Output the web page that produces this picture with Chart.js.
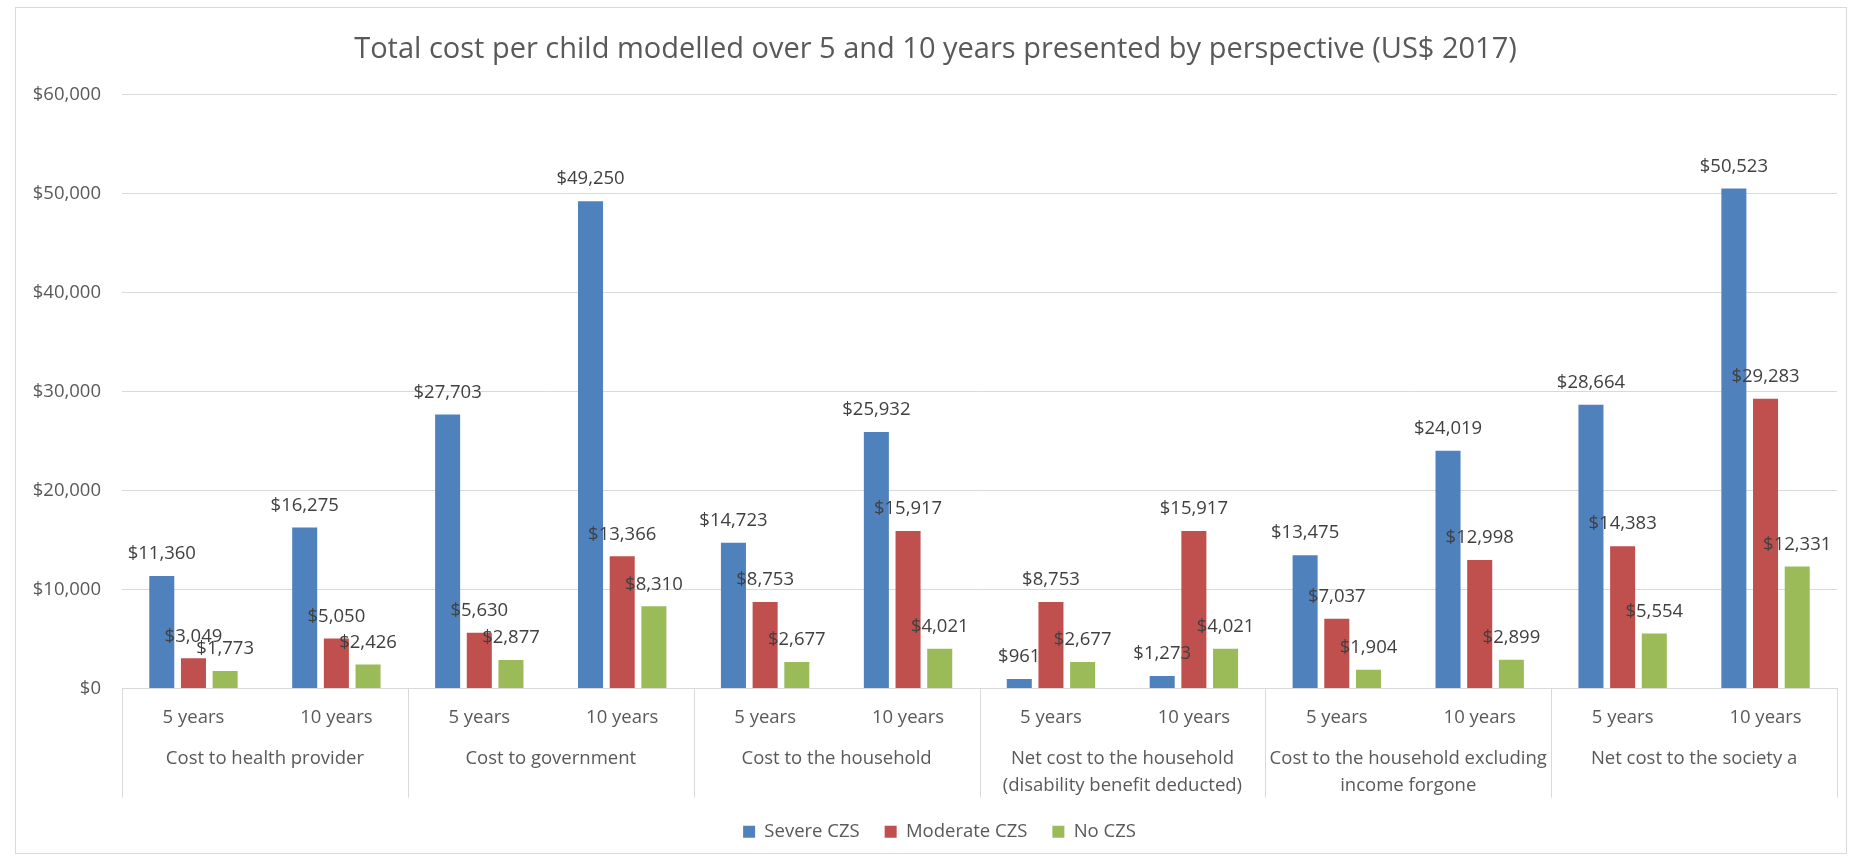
<!DOCTYPE html>
<html>
<head>
<meta charset="utf-8">
<title>Total cost per child</title>
<script src="https://cdn.jsdelivr.net/npm/chart.js@4.4.1/dist/chart.umd.min.js"></script>
<style>
  html, body { margin: 0; padding: 0; background: #ffffff; }
  #wrap { position: relative; width: 1854px; height: 860px; }
</style>
</head>
<body>
<div id="wrap"><canvas id="myChart"></canvas></div>
<script>
// categories: two horizons inside each perspective
const years = ['5 years', '10 years', '5 years', '10 years', '5 years', '10 years',
               '5 years', '10 years', '5 years', '10 years', '5 years', '10 years'];
const perspectives = [
    'Cost to health provider',
    'Cost to government',
    'Cost to the household',
    ['Net cost to the household', '(disability benefit deducted)'],
    ['Cost to the household excluding', 'income forgone'],
    'Net cost to the society a'
];
// US$ 2017 per child
const severe   = [11360, 16275, 27703, 49250, 14723, 25932, 961, 1273, 13475, 24019, 28664, 50523];
const moderate = [3049, 5050, 5630, 13366, 8753, 15917, 8753, 15917, 7037, 12998, 14383, 29283];
const noCzs    = [1773, 2426, 2877, 8310, 2677, 4021, 2677, 4021, 1904, 2899, 5554, 12331];
const yTicks   = [0, 10000, 20000, 30000, 40000, 50000, 60000];

const textGrey = '#595959';
const lineGrey = '#d9d9d9';
const money = v => '$' + v.toLocaleString('en-US');

Chart.defaults.font.family = "'Open Sans', sans-serif";
Chart.defaults.font.size = 18.5;
Chart.defaults.color = textGrey;

// outer frame of the chart
const framePlugin = {
    id: 'frame',
    beforeDraw(chart) {
        const ctx = chart.ctx;
        ctx.save();
        ctx.strokeStyle = lineGrey;
        ctx.lineWidth = 1;
        ctx.strokeRect(15.5, 7.5, 1831, 846);
        ctx.restore();
    }
};

// title and legend sit centred on the whole frame, not on the padded area
const nudge = {
    id: 'nudge',
    afterLayout(chart) {
        chart.titleBlock.left += 12;
        chart.titleBlock.right += 12;
        chart.legend.left += 16;
        chart.legend.right += 16;
    }
};

// value above every bar
const valueLabels = {
    id: 'valueLabels',
    afterDatasetsDraw(chart) {
        const ctx = chart.ctx;
        ctx.save();
        ctx.font = "18.5px 'Open Sans', sans-serif";
        ctx.fillStyle = '#404040';
        ctx.textAlign = 'center';
        ctx.textBaseline = 'middle';
        chart.data.datasets.forEach((ds, i) => {
            chart.getDatasetMeta(i).data.forEach((bar, j) => {
                ctx.fillText(money(ds.data[j]), bar.x, bar.y - 22);
            });
        });
        ctx.restore();
    }
};

// separators between the perspective groups under the axis
const groupLines = {
    id: 'groupLines',
    afterDraw(chart) {
        const x = chart.scales.x;
        const x2 = chart.scales.x2;
        const ctx = chart.ctx;
        ctx.save();
        ctx.strokeStyle = lineGrey;
        ctx.lineWidth = 1;
        for (let g = 0; g <= perspectives.length; g++) {
            let px;
            if (g === 0) px = x.left;
            else if (g === perspectives.length) px = x.right;
            else px = (x.getPixelForTick(2 * g - 1) + x.getPixelForTick(2 * g)) / 2;
            px = Math.round(px) + 0.5;
            ctx.beginPath();
            ctx.moveTo(px, x.top);
            ctx.lineTo(px, x2.bottom);
            ctx.stroke();
        }
        ctx.restore();
    }
};

const chart = new Chart(
    document.getElementById('myChart'),
    {
        type: 'bar',
        data: {
            labels: years,
            datasets: [
                { label: 'Severe CZS', data: severe, backgroundColor: '#4F81BD' },
                { label: 'Moderate CZS', data: moderate, backgroundColor: '#C0504D' },
                { label: 'No CZS', data: noCzs, backgroundColor: '#9BBB59' }
            ]
        },
        options: {
            responsive: true,
            maintainAspectRatio: false,
            animation: false,
            categoryPercentage: 0.665,
            barPercentage: 0.79,
            layout: {
                padding: { left: 10, right: 17, top: 10, bottom: 9 }
            },
            plugins: {
                title: {
                    display: true,
                    text: 'Total cost per child modelled over 5 and 10 years presented by perspective (US$ 2017)',
                    color: textGrey,
                    font: { size: 29, weight: 'normal', lineHeight: 1.2 },
                    padding: { top: 22, bottom: 28 }
                },
                legend: {
                    position: 'bottom',
                    labels: {
                        boxWidth: 12,
                        boxHeight: 12,
                        padding: 25,
                        color: textGrey,
                        font: { size: 18.5 }
                    }
                },
                tooltip: { enabled: false }
            },
            scales: {
                y: {
                    min: 0,
                    max: 60000,
                    afterBuildTicks: axis => { axis.ticks = yTicks.map(v => ({ value: v })); },
                    afterFit: axis => { axis.width = 112; },
                    grid: { color: lineGrey, drawTicks: false },
                    border: { display: false },
                    ticks: {
                        padding: 21,
                        color: textGrey,
                        callback: v => money(v)
                    }
                },
                x: {
                    weight: 1,
                    afterFit: axis => { axis.height = 40; },
                    grid: { display: false, drawTicks: false },
                    border: { display: true, color: lineGrey, width: 1 },
                    ticks: {
                        padding: 18,
                        autoSkip: false,
                        maxRotation: 0,
                        minRotation: 0,
                        color: textGrey
                    }
                },
                x2: {
                    type: 'category',
                    position: 'bottom',
                    weight: 2,
                    labels: perspectives,
                    offset: true,
                    afterFit: axis => { axis.height = 69; },
                    grid: { display: false, drawTicks: false },
                    border: { display: false },
                    ticks: {
                        padding: 17,
                        autoSkip: false,
                        maxRotation: 0,
                        minRotation: 0,
                        color: textGrey,
                        font: { size: 18.5, lineHeight: 1.44 }
                    }
                }
            }
        },
        plugins: [framePlugin, nudge, valueLabels, groupLines]
    }
);
</script>
</body>
</html>
